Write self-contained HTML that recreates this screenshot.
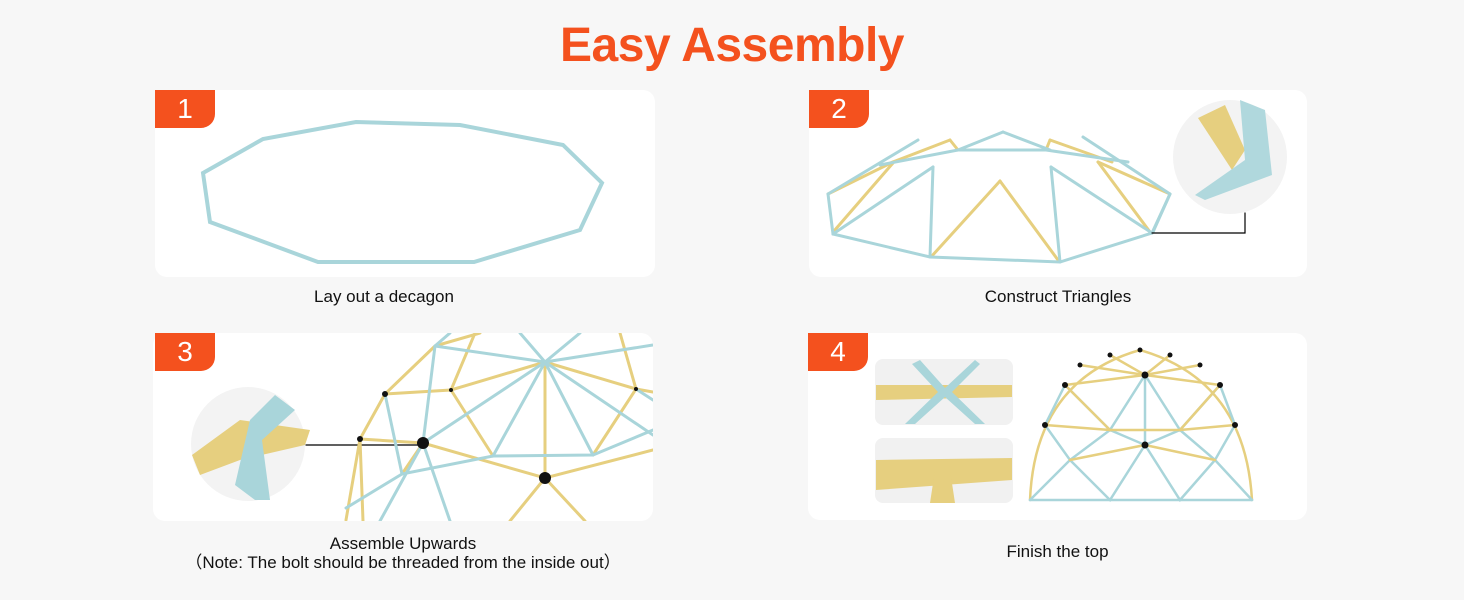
<!DOCTYPE html>
<html><head><meta charset="utf-8"><style>
body{margin:0;width:1464px;height:600px;background:#f7f7f7;font-family:"Liberation Sans",sans-serif;position:relative;overflow:hidden}
.t{position:absolute;left:0;width:1464px;text-align:center;top:18px;font-size:48px;font-weight:bold;color:#f4511e;letter-spacing:-0.5px}
.p{position:absolute;background:#fff;border-radius:12px;overflow:hidden}
.b{position:absolute;left:0;top:0;width:60px;height:38px;background:#f4511e;border-radius:0 0 14px 0;color:#fff;font-size:28px;text-align:center;line-height:38px}
.l{position:absolute;text-align:center;font-size:17px;color:#111}
svg{position:absolute;left:0;top:0}
</style></head><body>
<div class="t">Easy Assembly</div>
<div class="p" style="left:155px;top:90px;width:500px;height:187px"></div>
<div class="p" style="left:809px;top:90px;width:498px;height:187px"></div>
<div class="p" style="left:153px;top:333px;width:500px;height:188px"></div>
<div class="p" style="left:808px;top:333px;width:499px;height:187px"></div>
<svg width="1464" height="600" fill="none" stroke-linecap="round">
<defs><clipPath id="c3"><rect x="153" y="333" width="500" height="188" rx="12"/></clipPath></defs>
<!-- panel 1 decagon -->
<polygon points="203,173 263,139 356,122 460,125 563,145 602,183 580,230 474,262 318,262 210,222" stroke="#a9d5da" stroke-width="4"/>
<!-- panel 2 -->
<g stroke-width="3">
<g stroke="#e6cf7f">
<line x1="931" y1="257" x2="1000" y2="181"/><line x1="1000" y1="181" x2="1058" y2="260"/>
<line x1="834" y1="231" x2="893" y2="163"/><line x1="828" y1="194" x2="893" y2="162"/>
<line x1="885" y1="165" x2="950" y2="140"/><line x1="1050" y1="140" x2="1112" y2="162"/>
<line x1="1098" y1="162" x2="1150" y2="232"/><line x1="1098" y1="162" x2="1170" y2="194"/>
<line x1="950" y1="140" x2="958" y2="150"/><line x1="1050" y1="140" x2="1046" y2="150"/>
</g>
<g stroke="#a9d5da">
<polyline points="828,194 833,234 930,257 1060,262 1152,233 1170,194"/>
<line x1="833" y1="234" x2="933" y2="167"/><line x1="933" y1="167" x2="930" y2="257"/>
<line x1="1051" y1="167" x2="1060" y2="262"/><line x1="1051" y1="167" x2="1152" y2="233"/>
<line x1="1170" y1="194" x2="1153" y2="232"/>
<line x1="828" y1="194" x2="918" y2="140"/><line x1="880" y1="165" x2="958" y2="150"/>
<line x1="958" y1="150" x2="1003" y2="132"/><line x1="1003" y1="132" x2="1050" y2="150"/>
<line x1="958" y1="150" x2="1046" y2="150"/><line x1="1046" y1="150" x2="1128" y2="162"/>
<line x1="1083" y1="137" x2="1170" y2="194"/>
</g>
</g>
<circle cx="1230" cy="157" r="57" fill="#f3f3f3"/>
<path d="M1198,118 L1225,105 L1245,150 L1232,170 Z" fill="#e6cf7f"/>
<path d="M1240,100 L1265,110 L1272,175 L1205,200 L1195,195 L1245,160 Z" fill="#a9d5da" opacity="0.9"/>
<polyline points="1152,233 1245,233 1245,213" stroke="#000" stroke-width="1.2"/>
<!-- panel 3 -->
<circle cx="248" cy="444" r="57" fill="#f3f3f3"/>
<path d="M192,455 L240,420 L310,430 L305,445 L240,460 L200,475 Z" fill="#e6cf7f"/>
<path d="M235,485 L250,420 L275,395 L295,410 L262,440 L270,500 L255,500 Z" fill="#a9d5da"/>
<line x1="306" y1="445" x2="423" y2="445" stroke="#000" stroke-width="1.2"/>
<g clip-path="url(#c3)" stroke-width="3">
<g stroke="#e6cf7f">
<polyline points="346,520 360,439 385,394 435,346 480,333"/>
<polyline points="360,439 423,443 545,478 653,450"/>
<polyline points="385,394 451,390 545,362 636,389 653,392"/>
<line x1="545" y1="362" x2="545" y2="478"/><line x1="451" y1="390" x2="493" y2="456"/>
<line x1="636" y1="389" x2="593" y2="455"/><line x1="545" y1="478" x2="510" y2="521"/>
<line x1="545" y1="478" x2="585" y2="521"/><line x1="423" y1="443" x2="402" y2="474"/>
<line x1="451" y1="390" x2="475" y2="333"/><line x1="360" y1="439" x2="363" y2="521"/>
<line x1="620" y1="333" x2="636" y2="389"/>
</g>
<g stroke="#a9d5da">
<polyline points="385,394 402,474 493,456 593,455 653,430"/>
<line x1="435" y1="346" x2="423" y2="443"/><line x1="435" y1="346" x2="545" y2="362"/>
<line x1="545" y1="362" x2="653" y2="345"/><line x1="545" y1="362" x2="423" y2="443"/>
<line x1="545" y1="362" x2="493" y2="456"/><line x1="545" y1="362" x2="593" y2="455"/>
<line x1="545" y1="362" x2="653" y2="435"/><line x1="545" y1="362" x2="520" y2="333"/>
<line x1="545" y1="362" x2="580" y2="333"/><line x1="423" y1="443" x2="450" y2="521"/>
<line x1="423" y1="443" x2="380" y2="521"/><line x1="346" y1="508" x2="402" y2="474"/>
<line x1="435" y1="346" x2="450" y2="333"/><line x1="636" y1="389" x2="653" y2="400"/>
</g>
</g>
<circle cx="423" cy="443" r="6" fill="#111"/><circle cx="545" cy="478" r="6" fill="#111"/>
<circle cx="360" cy="439" r="3" fill="#111"/><circle cx="385" cy="394" r="3" fill="#111"/>
<circle cx="451" cy="390" r="2" fill="#111"/><circle cx="636" cy="389" r="2" fill="#111"/>
<!-- panel 4 small pics -->
<rect x="875" y="359" width="138" height="66" rx="8" fill="#f1f1f1"/>
<rect x="875" y="438" width="138" height="65" rx="8" fill="#f1f1f1"/>
<path d="M876,385 L1012,385 L1012,397 L876,400 Z" fill="#e6cf7f"/>
<path d="M920,360 L945,388 L975,360 L980,364 L952,392 L985,424 L975,424 L945,397 L915,424 L905,424 L938,392 L912,364 Z" fill="#a9d5da"/>
<path d="M876,460 L1012,458 L1012,480 L876,490 Z" fill="#e6cf7f"/>
<path d="M935,470 L950,470 L955,503 L930,503 Z" fill="#e6cf7f"/>
<!-- panel 4 dome -->
<g stroke-width="2.5">
<path d="M1030,500 Q1035,380 1140,350 Q1245,380 1252,500" stroke="#e6cf7f"/>
<g stroke="#a9d5da">
<line x1="1030" y1="500" x2="1252" y2="500"/>
<polyline points="1030,500 1070,460 1110,500 1145,445 1180,500 1215,460 1252,500"/>
<polyline points="1045,425 1070,460 1110,430 1145,445 1180,430 1215,460 1235,425"/>
<polyline points="1065,385 1110,430 1145,375 1180,430 1220,385"/>
<line x1="1045" y1="425" x2="1065" y2="385"/><line x1="1235" y1="425" x2="1220" y2="385"/>
<line x1="1145" y1="375" x2="1145" y2="445"/>
</g>
<g stroke="#e6cf7f">
<polyline points="1045,425 1110,430 1180,430 1235,425"/>
<polyline points="1065,385 1145,375 1220,385"/>
<polyline points="1080,365 1145,375 1200,365"/>
<line x1="1110" y1="355" x2="1145" y2="375"/><line x1="1170" y1="355" x2="1145" y2="375"/>
<line x1="1070" y1="460" x2="1145" y2="445"/><line x1="1145" y1="445" x2="1215" y2="460"/>
<line x1="1065" y1="385" x2="1110" y2="430"/><line x1="1220" y1="385" x2="1180" y2="430"/>
</g>
</g>
<g fill="#111"><circle cx="1145" cy="445" r="3.5"/><circle cx="1145" cy="375" r="3.5"/><circle cx="1065" cy="385" r="3"/><circle cx="1220" cy="385" r="3"/><circle cx="1045" cy="425" r="3"/><circle cx="1235" cy="425" r="3"/><circle cx="1110" cy="355" r="2.5"/><circle cx="1170" cy="355" r="2.5"/><circle cx="1080" cy="365" r="2.5"/><circle cx="1200" cy="365" r="2.5"/><circle cx="1140" cy="350" r="2.5"/></g>
</svg>
<div class="p" style="display:none"></div>
<div class="b" style="left:155px;top:90px">1</div>
<div class="b" style="left:809px;top:90px">2</div>
<div class="b" style="left:155px;top:333px">3</div>
<div class="b" style="left:808px;top:333px">4</div>
<div class="l" style="left:155px;width:458px;top:287px">Lay out a decagon</div>
<div class="l" style="left:809px;width:498px;top:287px">Construct Triangles</div>
<div class="l" style="left:153px;width:500px;top:534px;line-height:19px">Assemble Upwards<br>（Note: The bolt should be threaded from the inside out）</div>
<div class="l" style="left:808px;width:499px;top:542px">Finish the top</div>
</body></html>
